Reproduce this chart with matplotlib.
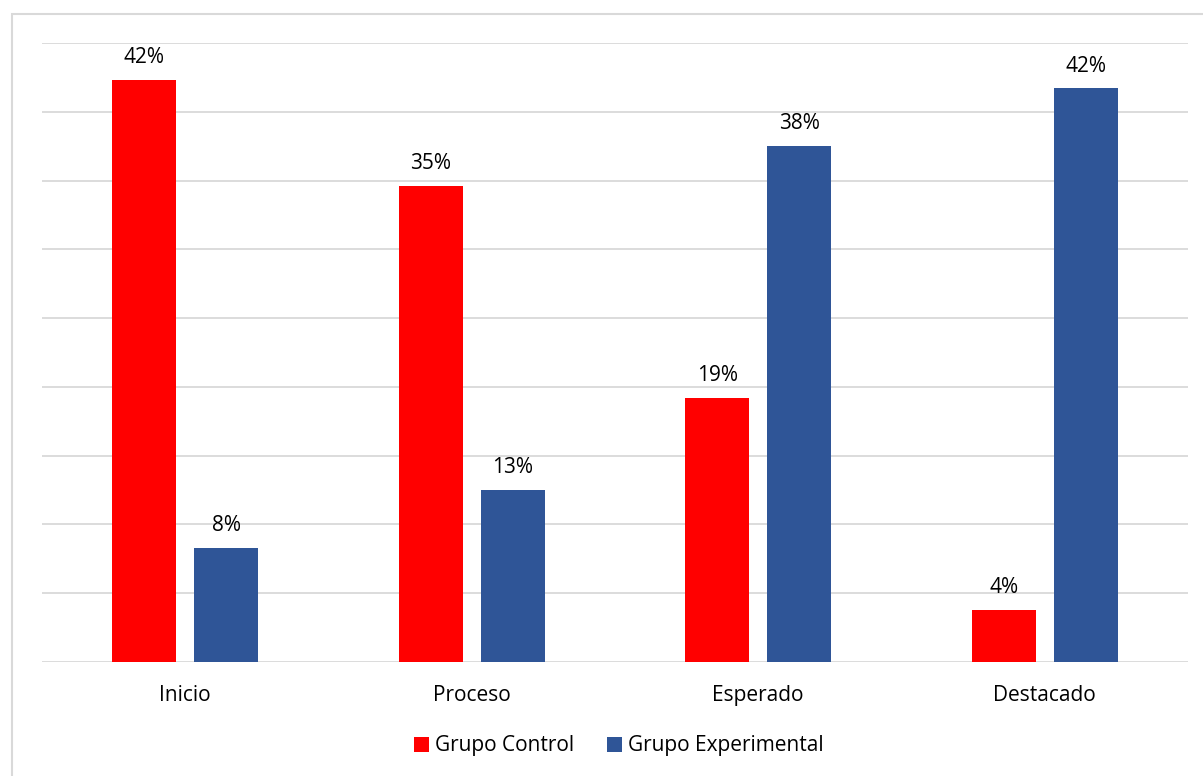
import numpy as np
import matplotlib.pyplot as plt
from matplotlib.patches import Rectangle

# data (percent of students per level)
categories = ['Inicio', 'Proceso', 'Esperado', 'Destacado']
control = [42.3, 34.6, 19.2, 3.8]
experimental = [8.3, 12.5, 37.5, 41.7]
series_names = ['Grupo Control', 'Grupo Experimental']

red = '#ff0000'
blue = '#2f5597'
grid_col = '#d9d9d9'

plt.rcParams['font.family'] = ['Open Sans', 'DejaVu Sans']

fig = plt.figure(figsize=(12.03, 7.76), dpi=100)
ax = fig.add_axes([42/1203, 1 - 662/776, (1188 - 42)/1203, (662 - 43)/776])

x = np.arange(len(categories))
w = 0.223
off = 0.143
b1 = ax.bar(x - off, control, w, color=red, label=series_names[0], zorder=3)
b2 = ax.bar(x + off, experimental, w, color=blue, label=series_names[1], zorder=3)

for bars, vals in [(b1, control), (b2, experimental)]:
    for rect, v in zip(bars, vals):
        ax.annotate('%d%%' % int(v + 0.5), (rect.get_x() + rect.get_width()/2, rect.get_height()),
                    xytext=(0, 12), textcoords='offset points',
                    ha='center', va='baseline', fontsize=15, color='#000000')

ax.set_xlim(-0.5, 3.5)
ax.set_ylim(0, 45)
ax.set_yticks(np.arange(0, 46, 5))
ax.set_yticklabels([])
ax.tick_params(axis='y', length=0)
ax.set_xticks(x)
ax.set_xticklabels(categories, fontsize=15)
ax.tick_params(axis='x', length=0, pad=16.5)
ax.grid(axis='y', color=grid_col, linewidth=1.3, zorder=0)
for s in ax.spines.values():
    s.set_visible(False)

# outer chart border
fig.patches.append(Rectangle((12/1203, -0.1), 1.2, 1.1 - 14/776, transform=fig.transFigure,
                             fill=False, edgecolor=grid_col, linewidth=1.5, zorder=0))

fig.legend(handles=[b1, b2], loc='center', bbox_to_anchor=(619/1203, 1 - 746/776),
           ncol=2, frameon=False, fontsize=15, handlelength=0.7, handleheight=0.7,
           handletextpad=0.3, columnspacing=1.6)

fig.savefig('out.png', dpi=100)
